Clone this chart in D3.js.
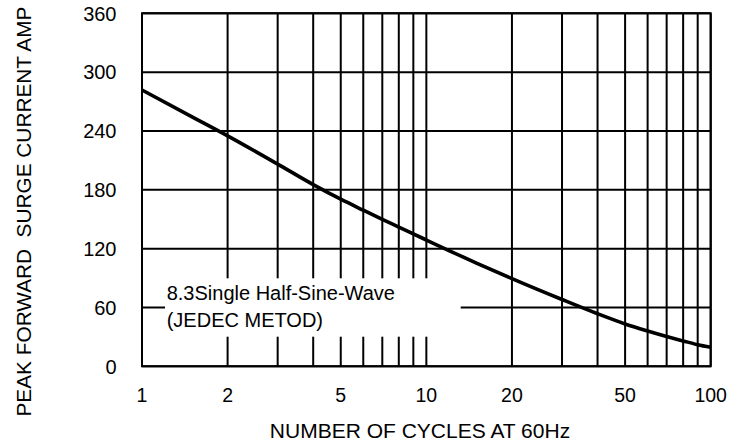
<!DOCTYPE html>
<html>
<head>
<meta charset="utf-8">
<script src="https://cdn.jsdelivr.net/npm/d3@7"></script>
<style>
  html, body { margin: 0; padding: 0; background: #fff; }
  svg { display: block; }
  text { font-family: "Liberation Sans", Arial, Helvetica, sans-serif; fill: #000; }
</style>
</head>
<body>
<svg id="chart" width="742" height="447"></svg>
<script>
// ---- data ----
const cycles = [1, 1.5, 2, 3, 4, 5, 6, 7, 8, 10, 15, 20, 30, 40, 50, 60, 70, 80, 90, 100];
const surgeAmps = [281.8, 254.4, 235, 206.2, 185.3, 170.4, 159.2, 149.9, 142, 128.8, 105.3, 89.4, 68.1, 53.6, 43.2, 36, 30.4, 25.9, 22, 19.4];
const xGridValues = [1, 2, 3, 4, 5, 6, 7, 8, 9, 10, 20, 30, 40, 50, 60, 70, 80, 90, 100];
const xTickLabels = [1, 2, 5, 10, 20, 50, 100];
const yTickValues = [0, 60, 120, 180, 240, 300, 360];
const xTitle = "NUMBER OF CYCLES AT 60Hz";
const yTitle = "PEAK FORWARD  SURGE CURRENT AMP";
const noteLines = ["8.3Single Half-Sine-Wave", "(JEDEC METOD)"];

// ---- layout ----
const plot = { left: 142, right: 710.7, top: 13.3, bottom: 366.3 };
const svg = d3.select("#chart");

const x = d3.scaleLog().domain([1, 100]).range([plot.left, plot.right]);
const y = d3.scaleLinear().domain([0, 360]).range([plot.bottom, plot.top]);

// grid
const grid = svg.append("g").attr("stroke", "#000").attr("stroke-width", 2);
grid.selectAll("line.vx").data(xGridValues).enter().append("line")
  .attr("x1", d => x(d)).attr("x2", d => x(d))
  .attr("y1", plot.top).attr("y2", plot.bottom);
grid.selectAll("line.hy").data(yTickValues).enter().append("line")
  .attr("x1", plot.left).attr("x2", plot.right)
  .attr("y1", d => y(d)).attr("y2", d => y(d));

// note box (white background knocks out grid)
const noteX = plot.left + 24.7;
const noteY = 300;
svg.append("rect")
  .attr("x", plot.left + 23)
  .attr("y", noteY - 21.7)
  .attr("width", 295.7)
  .attr("height", 58.4)
  .attr("fill", "#fff");
const note = svg.append("text")
  .attr("x", noteX).attr("y", noteY)
  .attr("font-size", 20);
note.selectAll("tspan").data(noteLines).enter().append("tspan")
  .attr("x", noteX)
  .attr("dy", (d, i) => i === 0 ? 0 : 26.7)
  .text(d => d);

// curve
const line = d3.line()
  .x((d, i) => x(cycles[i]))
  .y(d => y(d))
  .curve(d3.curveMonotoneX);
svg.append("path")
  .datum(surgeAmps)
  .attr("fill", "none")
  .attr("stroke", "#000")
  .attr("stroke-width", 3.6)
  .attr("stroke-linejoin", "round")
  .attr("d", line);

// frame
svg.append("rect")
  .attr("x", plot.left).attr("y", plot.top)
  .attr("width", plot.right - plot.left)
  .attr("height", plot.bottom - plot.top)
  .attr("fill", "none").attr("stroke", "#000").attr("stroke-width", 2);

// y tick labels
svg.append("g").selectAll("text").data(yTickValues).enter().append("text")
  .attr("x", 116.5)
  .attr("y", d => y(d))
  .attr("dy", "0.36em")
  .attr("text-anchor", "end")
  .attr("font-size", 20)
  .text(d => d);

// x tick labels
svg.append("g").selectAll("text").data(xTickLabels).enter().append("text")
  .attr("x", d => x(d))
  .attr("y", 401.7)
  .attr("text-anchor", "middle")
  .attr("font-size", 19.5)
  .text(d => d);

// axis titles
svg.append("text")
  .attr("x", 420).attr("y", 438)
  .attr("text-anchor", "middle")
  .attr("font-size", 21)
  .text(xTitle);

svg.append("text")
  .attr("transform", "translate(30.5,416.5) rotate(-90)")
  .attr("text-anchor", "start")
  .attr("font-size", 20.8)
  .style("white-space", "pre")
  .text(yTitle);
</script>
</body>
</html>
